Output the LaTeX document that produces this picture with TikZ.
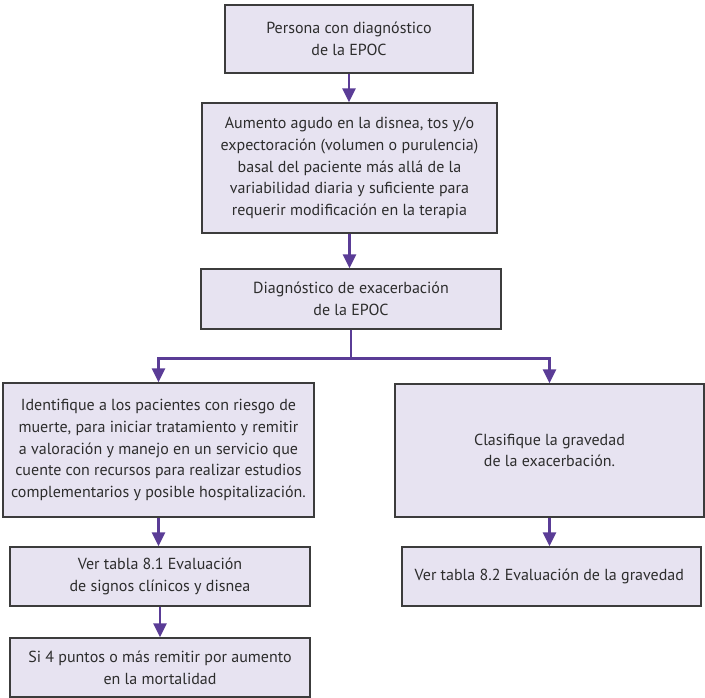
\documentclass[tikz,border=0pt]{standalone}
\usepackage{fontspec}
\setmainfont{PT Sans}
\usetikzlibrary{arrows.meta, positioning, calc}

\definecolor{boxfill}{RGB}{231,227,241}
\definecolor{boxline}{RGB}{60,60,60}
\definecolor{boxtext}{RGB}{45,45,45}
\definecolor{arrowpurple}{RGB}{90,60,150}

\begin{document}
\begin{tikzpicture}[
		x=1pt, y=-1pt,
		state/.style={draw=boxline, rectangle, fill=boxfill, line width=1.3pt, text=boxtext,
			inner sep=0pt, align=center, font=\fontsize{16}{21.7}\selectfont},
		flow/.style={draw=arrowpurple, line width=2.6pt,
			-{Triangle[width=13pt,length=14pt]}},
	]
	\useasboundingbox (0,0) rectangle (705,698);

	% -- all boxes --

	\node [state,minimum width=248pt,minimum height=68pt] (persona) at (349, 39) {
		Persona con diagnóstico \\ de la EPOC
	};
	\node [state,minimum width=295pt,minimum height=130pt] (aumento) at (349.5, 168) {
		Aumento agudo en la disnea, tos y/o \\
		expectoración (volumen o purulencia) \\
		basal del paciente más allá de la \\
		variabilidad diaria y suficiente para \\
		requerir modificación en la terapia
	};
	\node [state,minimum width=300pt,minimum height=60pt] (diag) at (351, 299) {
		Diagnóstico de exacerbación \\ de la EPOC
	};
	\node [state,minimum width=311pt,minimum height=134pt] (identif) at (158.5, 450) {
		Identifique a los pacientes con riesgo de \\
		muerte, para iniciar tratamiento y remitir \\
		a valoración y manejo en un servicio que \\
		cuente con recursos para realizar estudios \\
		complementarios y posible hospitalización.
	};
	\node [state,minimum width=309pt,minimum height=133pt] (clasif) at (549.5, 450.5) {
		Clasifique la gravedad \\ de la exacerbación.
	};
	\node [state,minimum width=300pt,minimum height=59pt] (tabla81) at (160, 576.5) {
		Ver tabla 8.1 Evaluación \\ de signos clínicos y disnea
	};
	\node [state,minimum width=300pt,minimum height=59pt] (puntos) at (160, 667.5) {
		Si 4 puntos o más remitir por aumento \\ en la mortalidad
	};
	\node [state,minimum width=299pt,minimum height=59pt] (tabla82) at (551.5, 576.5) {
		Ver tabla 8.2 Evaluación de la gravedad
	};

	% -- straight edges --

	\draw[flow] (persona.south) -- (persona.south |- aumento.north);
	\draw[flow] (aumento.south) -- (aumento.south |- diag.north);
	\draw[flow] (identif.south) -- (identif.south |- tabla81.north);
	\draw[flow] (tabla81.south) -- (tabla81.south |- puntos.north);
	\draw[flow] (clasif.south) -- (clasif.south |- tabla82.north);

	% -- branch --

	\coordinate (split) at ($(diag.south)+(0,29)$);
	\draw[draw=arrowpurple, line width=2.6pt] (diag.south) -- (split);
	\draw[flow] (split) -| (identif.north);
	\draw[flow] (split) -| (clasif.north);
\end{tikzpicture}
\end{document}
